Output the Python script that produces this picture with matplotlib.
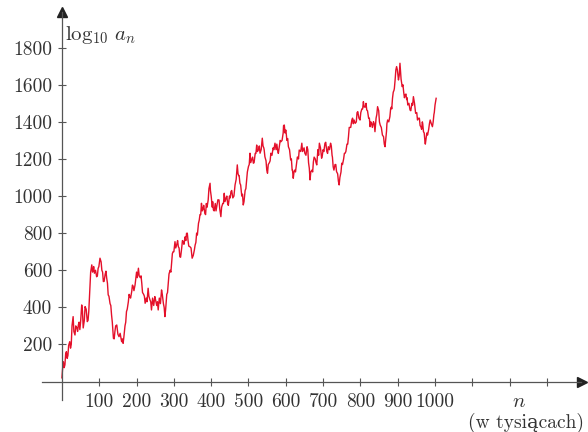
import matplotlib.pyplot as plt

plt.rcParams['mathtext.fontset'] = 'cm'
plt.rcParams['font.family'] = ['cmr10', 'DejaVu Serif']

# n (in thousands) and log10 a_n: main turning points
n_vals = [0, 4, 8, 12, 16, 21, 25, 30, 35, 40, 44, 48, 53, 57, 62, 68, 72, 75, 80,
          84, 87, 93, 97, 102, 107, 111, 116, 120, 124, 129, 133, 138, 142, 147, 153,
          160, 164, 169, 173, 178, 182, 187, 191, 196, 205, 210, 214, 219, 223, 231,
          236, 240, 249, 254, 258, 267, 272, 276, 281, 285, 290, 294, 298, 303, 308,
          312, 316, 321, 325, 330, 334, 338, 343, 349, 357, 361, 366, 370, 374, 378,
          383, 387, 392, 397, 400, 403, 406, 411, 415, 421, 426, 431, 435, 440, 444,
          449, 453, 458, 464, 470, 474, 477, 482, 486, 491, 495, 500, 504, 509, 513,
          518, 522, 527, 531, 537, 541, 544, 551, 556, 560, 566, 571, 578, 583, 587,
          593, 596, 600, 603, 607, 613, 617, 620, 624, 629, 633, 636, 643, 647, 651,
          657, 661, 665, 670, 674, 679, 683, 690, 696, 700, 705, 710, 714, 720, 724,
          727, 732, 736, 743, 747, 750, 755, 759, 764, 768, 772, 777, 781, 786, 793,
          799, 804, 808, 813, 817, 822, 826, 830, 835, 839, 846, 853, 859, 866, 870,
          873, 879, 883, 886, 890, 893, 897, 902, 906, 912, 916, 920, 924, 927, 933,
          938, 942, 948, 955, 962, 966, 969, 973, 976, 980, 987, 993, 997, 1000, 1003]
log_an = [20, 107, 90, 161, 140, 215, 200, 350, 251, 290, 305, 280, 413, 289, 404, 323,
          380, 503, 629, 600, 584, 565, 610, 665, 600, 539, 580, 557, 467, 420, 359,
          233, 270, 305, 242, 215, 206, 300, 377, 430, 458, 485, 512, 521, 611, 560,
          530, 470, 422, 503, 440, 386, 458, 410, 386, 494, 420, 350, 470, 530, 600,
          638, 700, 754, 740, 727, 673, 720, 754, 780, 799, 760, 727, 665, 736, 800,
          853, 900, 961, 930, 907, 960, 979, 1069, 1000, 940, 925, 960, 943, 979, 889,
          960, 1015, 990, 961, 1000, 1024, 990, 1060, 1168, 1110, 1069, 1000, 952, 1030,
          1087, 1160, 1231, 1200, 1177, 1230, 1275, 1250, 1231, 1312, 1260, 1212, 1123,
          1180, 1231, 1260, 1285, 1248, 1270, 1293, 1340, 1383, 1356, 1300, 1266, 1195,
          1140, 1096, 1140, 1177, 1210, 1248, 1285, 1250, 1231, 1266, 1180, 1087, 1140,
          1185, 1200, 1168, 1285, 1204, 1250, 1285, 1240, 1266, 1285, 1220, 1158, 1170,
          1132, 1060, 1120, 1177, 1200, 1231, 1280, 1320, 1370, 1410, 1390, 1392, 1455,
          1410, 1470, 1509, 1480, 1464, 1420, 1374, 1390, 1401, 1347, 1482, 1383, 1329,
          1266, 1350, 1410, 1428, 1480, 1527, 1570, 1626, 1698, 1626, 1716, 1590, 1560,
          1545, 1520, 1491, 1464, 1500, 1536, 1446, 1419, 1374, 1400, 1347, 1293, 1310,
          1329, 1410, 1374, 1440, 1491, 1527]

# small wiggles read between the turning points (the band of jitter)
n_wig = [2, 6, 10, 14, 18, 23, 27, 32, 37, 42, 46, 50, 55, 60, 65, 70, 73, 77, 82, 85,
         90, 95, 99, 105, 109, 113, 118, 122, 126, 131, 135, 140, 144, 150, 156, 162,
         166, 171, 175, 180, 184, 189, 193, 200, 202, 207, 212, 216, 221, 226, 228, 233,
         238, 243, 246, 251, 256, 261, 264, 269, 274, 278, 283, 287, 292, 296, 300, 305,
         310, 314, 318, 323, 327, 332, 336, 340, 346, 352, 355, 359, 363, 368, 372, 376,
         380, 385, 389, 394, 398, 402, 404, 408, 413, 418, 423, 428, 433, 437, 442, 446,
         451, 455, 461, 467, 472, 475, 479, 484, 488, 493, 497, 502, 506, 511, 515, 520,
         524, 529, 534, 539, 542, 547, 549, 553, 558, 563, 568, 574, 576, 580, 585, 590,
         594, 598, 601, 605, 610, 615, 618, 622, 626, 631, 634, 640, 645, 649, 654, 659,
         663, 667, 672, 676, 681, 686, 688, 693, 698, 702, 707, 712, 717, 722, 725, 729,
         734, 739, 741, 745, 748, 752, 757, 761, 766, 770, 774, 779, 783, 789, 791, 796,
         801, 806, 810, 815, 819, 824, 828, 832, 837, 842, 844, 849, 851, 856, 862, 864,
         868, 871, 876, 881, 884, 888, 891, 895, 899, 904, 909, 914, 918, 922, 925, 930,
         935, 940, 945, 951, 953, 958, 960, 964, 967, 971, 974, 978, 983, 985, 990, 995,
         998]
v_wig = [75, 75, 150, 125, 195, 180, 300, 270, 300, 270, 320, 320, 380, 330, 390, 330,
         420, 590, 590, 620, 600, 570, 620, 645, 590, 540, 595, 530, 460, 410, 320, 230,
         300, 255, 260, 230, 240, 320, 390, 470, 450, 520, 490, 590, 560, 570, 570, 480,
         460, 450, 430, 460, 430, 450, 410, 440, 430, 450, 420, 470, 400, 390, 480, 580,
         590, 690, 700, 720, 760, 720, 670, 760, 740, 760, 800, 730, 720, 680, 710, 750,
         790, 870, 900, 920, 950, 900, 940, 1040, 1030, 960, 970, 920, 920, 980, 930, 940,
         960, 970, 1000, 950, 990, 1030, 1000, 1090, 1120, 1110, 1060, 1010, 970, 1040,
         1130, 1170, 1180, 1210, 1180, 1230, 1240, 1270, 1250, 1270, 1250, 1190, 1140,
         1170, 1190, 1220, 1250, 1250, 1280, 1230, 1300, 1300, 1380, 1340, 1340, 1310,
         1250, 1200, 1140, 1130, 1130, 1210, 1200, 1240, 1240, 1260, 1220, 1250, 1150,
         1130, 1130, 1210, 1180, 1250, 1220, 1260, 1220, 1240, 1290, 1230, 1250, 1270,
         1210, 1140, 1170, 1120, 1080, 1100, 1130, 1170, 1230, 1240, 1280, 1370, 1370,
         1420, 1410, 1400, 1450, 1420, 1450, 1470, 1480, 1500, 1460, 1420, 1400, 1370,
         1390, 1420, 1440, 1460, 1400, 1370, 1320, 1280, 1310, 1390, 1400, 1470, 1470,
         1560, 1580, 1680, 1680, 1650, 1630, 1600, 1530, 1550, 1530, 1500, 1460, 1490,
         1500, 1450, 1410, 1420, 1380, 1360, 1390, 1340, 1280, 1340, 1360, 1390, 1390,
         1400, 1450]

x_ticks = [100, 200, 300, 400, 500, 600, 700, 800, 900, 1000, 1100, 1200, 1300]
x_labels = ['100', '200', '300', '400', '500', '600', '700', '800', '900', '1000', '', '', '']
y_ticks = [200, 400, 600, 800, 1000, 1200, 1400, 1600, 1800]

pts = sorted(zip(n_vals + n_wig, log_an + v_wig))
xs = [p[0] for p in pts]
ys = [p[1] for p in pts]

axis_col = '#555555'
text_col = '#333333'

fig = plt.figure(figsize=(5.88, 4.32), dpi=100)
ax = fig.add_axes([0, 0, 1, 1])
ax.set_xlim(-166, 1410)
ax.set_ylim(-272, 2057)

ax.plot(xs, ys, color='#e4102a', lw=1.0)

for s in ['top', 'right']:
    ax.spines[s].set_visible(False)
ax.spines['left'].set_position(('data', 0))
ax.spines['bottom'].set_position(('data', 0))
ax.spines['left'].set_bounds(-99, 1990)
ax.spines['bottom'].set_bounds(-54, 1390)
for s in ['left', 'bottom']:
    ax.spines[s].set_color(axis_col)
    ax.spines[s].set_linewidth(0.9)

# arrow heads
ax.plot(1395, 0, '>', color='#222222', ms=7, clip_on=False)
ax.plot(0, 1995, '^', color='#222222', ms=7, clip_on=False)

ax.set_xticks(x_ticks)
ax.set_xticklabels(x_labels)
ax.set_yticks(y_ticks)
ax.tick_params(axis='both', direction='inout', length=6, width=0.8, color=axis_col,
               labelcolor=text_col)
ax.tick_params(axis='x', pad=5, labelsize=14)
ax.tick_params(axis='y', pad=4, labelsize=14)

ax.text(8, 1870, r'$\log_{10}\, a_n$', fontsize=15, color=text_col, ha='left', va='center')
ax.text(1225, -112, r'$n$', fontsize=15, color=text_col, ha='center', va='center')
ax.text(1243, -225, '(w tysiącach)', fontsize=14, color=text_col, ha='center', va='center')

fig.savefig('out.png', dpi=100)
